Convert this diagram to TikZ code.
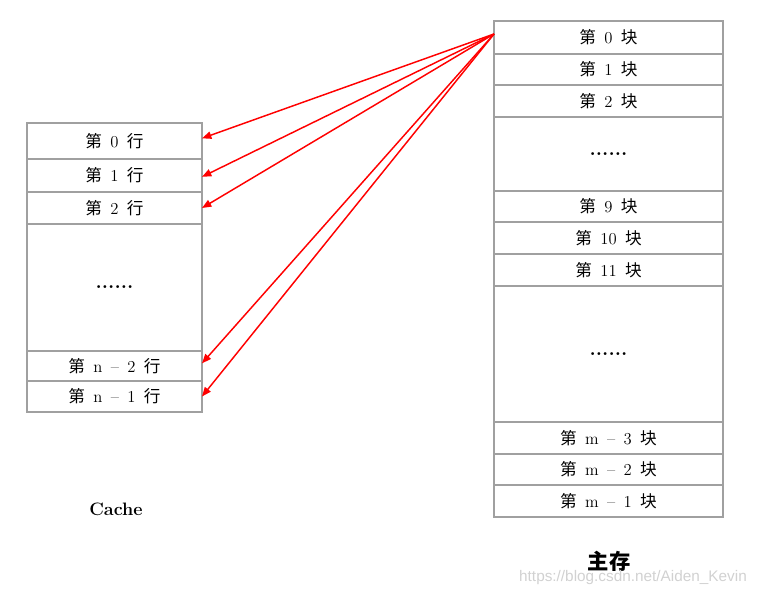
\documentclass[tikz,border=0pt]{standalone}
\usepackage{fontspec}
\newfontfamily\cjk{Noto Sans CJK SC}
\newfontfamily\wmfont{Liberation Sans}
\usepackage{xcolor}
\definecolor{frame}{RGB}{160,160,160}
\definecolor{arrowred}{RGB}{255,0,0}
\usepackage{tikz}
\usetikzlibrary{arrows.meta,positioning}
\newcommand{\sepsp}{\hspace{0.5em}}
\newcommand{\cachetxt}[1]{{\cjk 第}\sepsp#1\sepsp{\cjk 行}}
\newcommand{\memtxt}[1]{{\cjk 第}\sepsp#1\sepsp{\cjk 块}}

\begin{document}
\begin{tikzpicture}[
  x=0.75pt,y=-0.75pt,
  cell/.style={rectangle,draw=frame,line width=1.3pt,outer sep=0pt,
               inner sep=0pt,font=\fontsize{12.5}{14}\selectfont},
  lcell/.style={cell,minimum width=131.25pt},
  rcell/.style={cell,minimum width=171.75pt},
  dots/.style={font=\fontsize{15}{16}\selectfont\bfseries},
  link/.style={draw=arrowred,line width=1.1pt,
               -{Triangle[length=7pt,width=5.5pt]}},
  node distance=0pt,
]
  \useasboundingbox (0,0) rectangle (760,596);
  %% Cache
  \node[lcell,minimum height=27pt,anchor=north](c0) at (114.5,123){\cachetxt{0}};
  \node[lcell,minimum height=24.75pt,below=of c0](c1){\cachetxt{1}};
  \node[lcell,minimum height=24pt,below=of c1](c2){\cachetxt{2}};
  \node[lcell,minimum height=95.25pt,below=of c2](cdots){};
  \node[dots] at (cdots.center){......};
  \node[lcell,minimum height=22.5pt,below=of cdots](cn2){\cachetxt{n\sepsp--\sepsp2}};
  \node[lcell,minimum height=23.25pt,below=of cn2](cn1){\cachetxt{n\sepsp--\sepsp1}};
  \node[font=\fontsize{13.5}{15}\selectfont\bfseries](cache) at (116,509){Cache};
  %% main memory
  \node[rcell,minimum height=24.75pt,anchor=north](m0) at (608.5,21){\memtxt{0}};
  \node[rcell,minimum height=23.25pt,below=of m0](m1){\memtxt{1}};
  \node[rcell,minimum height=24pt,below=of m1](m2){\memtxt{2}};
  \node[rcell,minimum height=55.5pt,below=of m2](mdotsa){};
  \node[dots] at (mdotsa.center){......};
  \node[rcell,minimum height=23.25pt,below=of mdotsa](m9){\memtxt{9}};
  \node[rcell,minimum height=24pt,below=of m9](m10){\memtxt{10}};
  \node[rcell,minimum height=24pt,below=of m10](m11){\memtxt{11}};
  \node[rcell,minimum height=102pt,below=of m11](mdotsb){};
  \node[dots] at (mdotsb.center){......};
  \node[rcell,minimum height=24pt,below=of mdotsb](mm3){\memtxt{m\sepsp--\sepsp3}};
  \node[rcell,minimum height=23.25pt,below=of mm3](mm2){\memtxt{m\sepsp--\sepsp2}};
  \node[rcell,minimum height=24pt,below=of mm2](mm1){\memtxt{m\sepsp--\sepsp1}};
  \node[font=\fontsize{16}{18}\selectfont\cjk\bfseries](mem) at (609,561){主存};
  \node[font=\fontsize{11.5}{13}\selectfont\wmfont,text=black!18](wm) at (633,578){https://blog.csdn.net/Aiden\_Kevin};
  %% mapping arrows
  \coordinate (src) at (494,34);
  \draw[link] (src) -- ([yshift=2pt]c0.east);
  \draw[link] (src) -- ([yshift=-1pt]c1.east);
  \draw[link] (src) -- (c2.east);
  \draw[link] (src) -- ([yshift=2pt]cn2.east);
  \draw[link] (src) -- (cn1.east);
\end{tikzpicture}
\end{document}
